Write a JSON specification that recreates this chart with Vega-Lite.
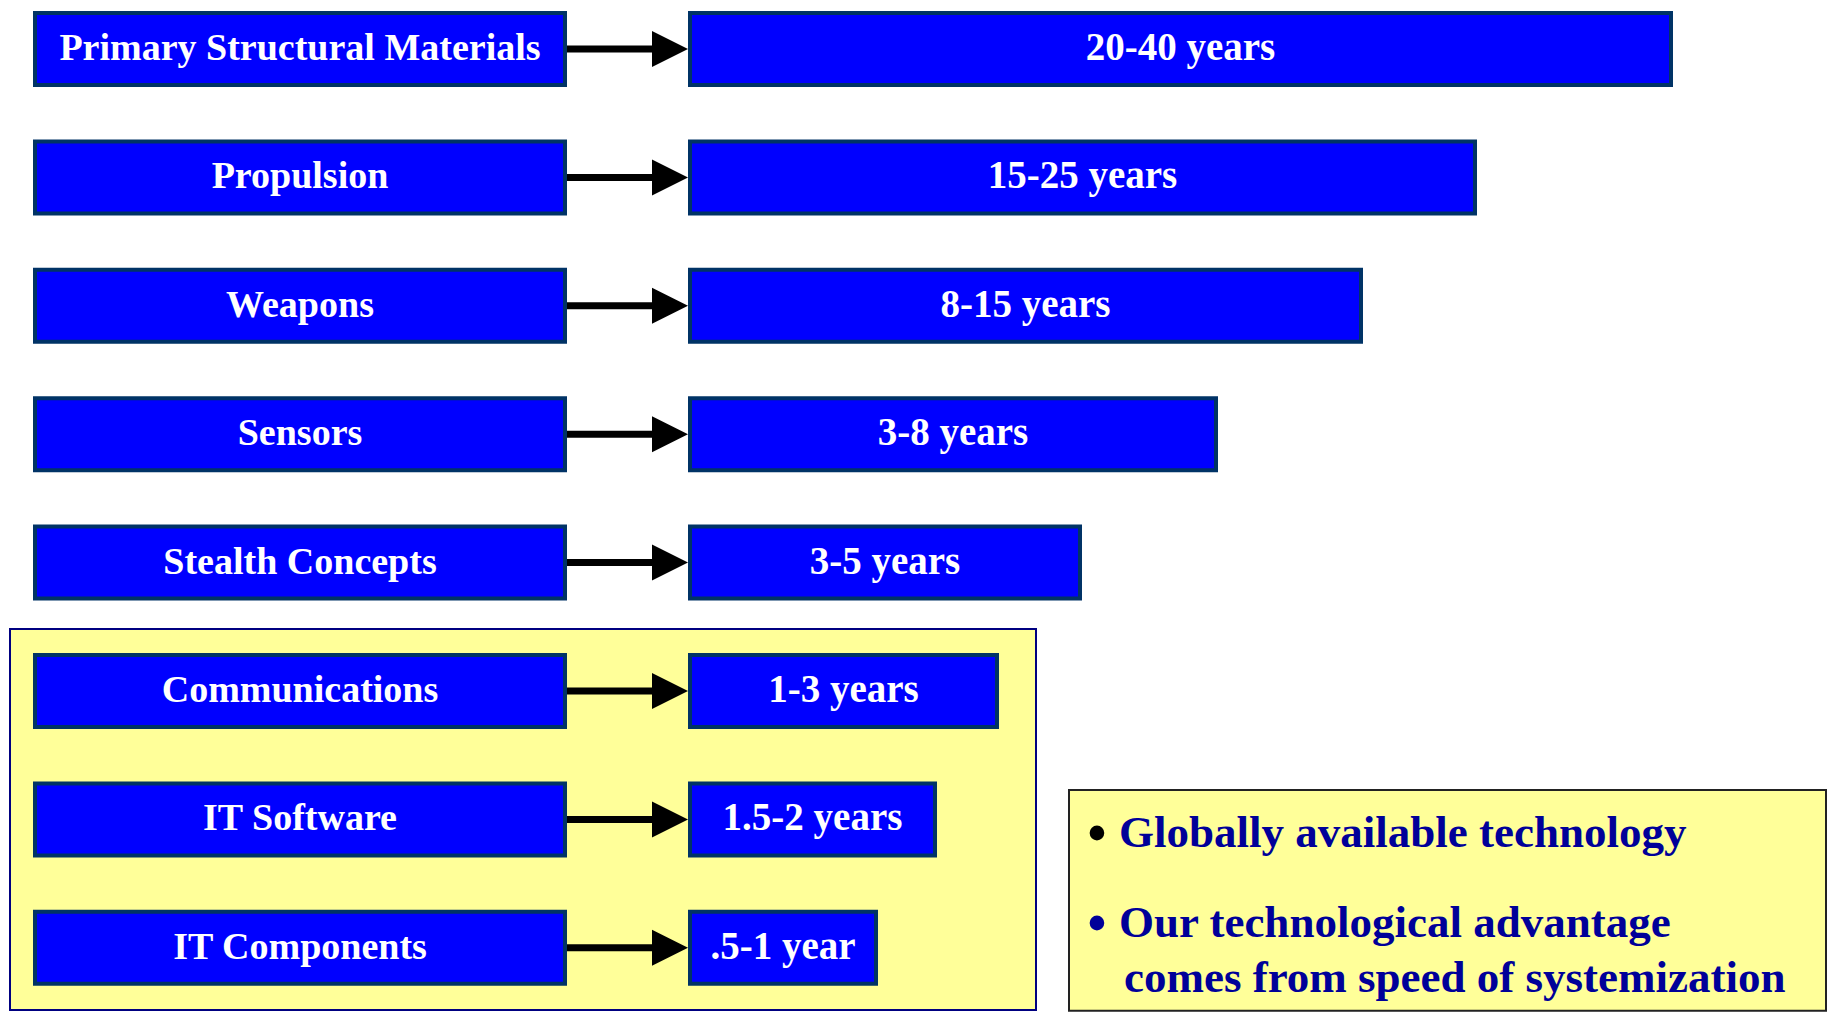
{
  "$schema": "https://vega.github.io/schema/vega-lite/v6.json",
  "width": 1830,
  "height": 1013,
  "autosize": {"type": "fit", "contains": "padding"},
  "padding": 0,
  "background": "white",
  "config": {"view": {"stroke": null}},
  "datasets": {
    "rows": [
      {"row": 1, "category": "Primary Structural Materials", "range": "20-40 years", "end": 1671},
      {"row": 2, "category": "Propulsion", "range": "15-25 years", "end": 1475},
      {"row": 3, "category": "Weapons", "range": "8-15 years", "end": 1361},
      {"row": 4, "category": "Sensors", "range": "3-8 years", "end": 1216},
      {"row": 5, "category": "Stealth Concepts", "range": "3-5 years", "end": 1080},
      {"row": 6, "category": "Communications", "range": "1-3 years", "end": 997},
      {"row": 7, "category": "IT Software", "range": "1.5-2 years", "end": 935},
      {"row": 8, "category": "IT Components", "range": ".5-1 year", "end": 876}
    ]
  },
  "layer": [
    {
      "data": {"values": [{"panel": "short-cycle"}]},
      "mark": {"type": "rect", "fill": "#FFFF99", "stroke": "#000080", "strokeWidth": 2},
      "encoding": {
        "x": {"datum": 10, "type": "quantitative", "scale": {"domain": [0, 1830], "nice": false, "zero": false}, "axis": null},
        "x2": {"datum": 1036},
        "y": {"datum": 5.517, "type": "quantitative", "scale": {"domain": [0.6184, 8.5075], "reverse": true, "nice": false, "zero": false}, "axis": null},
        "y2": {"datum": 8.484}
      }
    },
    {
      "data": {"values": [{"panel": "notes"}]},
      "mark": {"type": "rect", "fill": "#FFFF99", "stroke": "#222222", "strokeWidth": 2},
      "encoding": {
        "x": {"datum": 1069, "type": "quantitative", "scale": {"domain": [0, 1830], "nice": false, "zero": false}, "axis": null},
        "x2": {"datum": 1826},
        "y": {"datum": 6.771, "type": "quantitative", "axis": null},
        "y2": {"datum": 8.49}
      }
    },
    {
      "data": {"name": "rows"},
      "mark": {"type": "rect", "fill": "#0000FF", "stroke": "#003366", "strokeWidth": 4, "yOffset": -36, "y2Offset": 36},
      "encoding": {
        "x": {"datum": 35, "type": "quantitative", "scale": {"domain": [0, 1830], "nice": false, "zero": false}, "axis": null},
        "x2": {"datum": 565},
        "y": {"field": "row", "type": "quantitative", "axis": null},
        "y2": {"field": "row"}
      }
    },
    {
      "data": {"name": "rows"},
      "mark": {"type": "rect", "fill": "#0000FF", "stroke": "#003366", "strokeWidth": 4, "yOffset": -36, "y2Offset": 36},
      "encoding": {
        "x": {"field": "end", "type": "quantitative", "scale": {"domain": [0, 1830], "nice": false, "zero": false}, "axis": null},
        "x2": {"datum": 690},
        "y": {"field": "row", "type": "quantitative", "axis": null},
        "y2": {"field": "row"}
      }
    },
    {
      "data": {"name": "rows"},
      "mark": {"type": "rule", "stroke": "black", "strokeWidth": 7},
      "encoding": {
        "x": {"datum": 567, "type": "quantitative", "scale": {"domain": [0, 1830], "nice": false, "zero": false}, "axis": null},
        "x2": {"datum": 654},
        "y": {"field": "row", "type": "quantitative", "axis": null}
      }
    },
    {
      "data": {"name": "rows"},
      "mark": {"type": "point", "shape": "M-1,-1L1,0L-1,1Z", "filled": true, "fill": "black", "strokeWidth": 0, "opacity": 1, "size": 1296, "xOffset": -19},
      "encoding": {
        "x": {"datum": 689, "type": "quantitative", "scale": {"domain": [0, 1830], "nice": false, "zero": false}, "axis": null},
        "y": {"field": "row", "type": "quantitative", "axis": null}
      }
    },
    {
      "data": {"name": "rows"},
      "mark": {"type": "text", "font": "Liberation Serif", "fontWeight": "bold", "fontSize": 38, "fill": "white", "align": "center", "baseline": "middle", "dy": 0},
      "encoding": {
        "x": {"datum": 300, "type": "quantitative", "scale": {"domain": [0, 1830], "nice": false, "zero": false}, "axis": null},
        "y": {"field": "row", "type": "quantitative", "axis": null},
        "text": {"field": "category", "type": "nominal"}
      }
    },
    {
      "data": {"name": "rows"},
      "mark": {"type": "text", "font": "Liberation Serif", "fontWeight": "bold", "fontSize": 39, "fill": "white", "align": "center", "baseline": "middle", "dy": -1},
      "encoding": {
        "x": {"field": "end", "type": "quantitative", "scale": {"domain": [-690, 2970], "nice": false, "zero": false}, "axis": null},
        "y": {"field": "row", "type": "quantitative", "axis": null},
        "text": {"field": "range", "type": "nominal"}
      }
    },
    {
      "data": {"values": [{"bullet": "•"}]},
      "mark": {"type": "text", "font": "Liberation Serif", "fontWeight": "bold", "fontSize": 54, "fill": "black", "align": "center", "baseline": "alphabetic", "dy": 4},
      "encoding": {
        "x": {"datum": 1097, "type": "quantitative", "scale": {"domain": [0, 1830], "nice": false, "zero": false}, "axis": null},
        "y": {"datum": 7.215, "type": "quantitative", "axis": null},
        "text": {"field": "bullet", "type": "nominal"}
      }
    },
    {
      "data": {"values": [{"bullet": "•"}]},
      "mark": {"type": "text", "font": "Liberation Serif", "fontWeight": "bold", "fontSize": 54, "fill": "#000099", "align": "center", "baseline": "alphabetic", "dy": 4},
      "encoding": {
        "x": {"datum": 1097, "type": "quantitative", "scale": {"domain": [0, 1830], "nice": false, "zero": false}, "axis": null},
        "y": {"datum": 7.916, "type": "quantitative", "axis": null},
        "text": {"field": "bullet", "type": "nominal"}
      }
    },
    {
      "data": {"values": [{"note": "Globally available technology"}]},
      "mark": {"type": "text", "font": "Liberation Serif", "fontWeight": "bold", "fontSize": 45, "fill": "#000099", "align": "left", "baseline": "alphabetic"},
      "encoding": {
        "x": {"datum": 1119, "type": "quantitative", "scale": {"domain": [0, 1830], "nice": false, "zero": false}, "axis": null},
        "y": {"datum": 7.215, "type": "quantitative", "axis": null},
        "text": {"field": "note", "type": "nominal"}
      }
    },
    {
      "data": {"values": [{"note": "Our technological advantage"}]},
      "mark": {"type": "text", "font": "Liberation Serif", "fontWeight": "bold", "fontSize": 45, "fill": "#000099", "align": "left", "baseline": "alphabetic"},
      "encoding": {
        "x": {"datum": 1119, "type": "quantitative", "scale": {"domain": [0, 1830], "nice": false, "zero": false}, "axis": null},
        "y": {"datum": 7.916, "type": "quantitative", "axis": null},
        "text": {"field": "note", "type": "nominal"}
      }
    },
    {
      "data": {"values": [{"note": "comes from speed of systemization"}]},
      "mark": {"type": "text", "font": "Liberation Serif", "fontWeight": "bold", "fontSize": 45, "fill": "#000099", "align": "left", "baseline": "alphabetic"},
      "encoding": {
        "x": {"datum": 1124, "type": "quantitative", "scale": {"domain": [0, 1830], "nice": false, "zero": false}, "axis": null},
        "y": {"datum": 8.344, "type": "quantitative", "axis": null},
        "text": {"field": "note", "type": "nominal"}
      }
    }
  ],
  "resolve": {"scale": {"x": "independent"}}
}
